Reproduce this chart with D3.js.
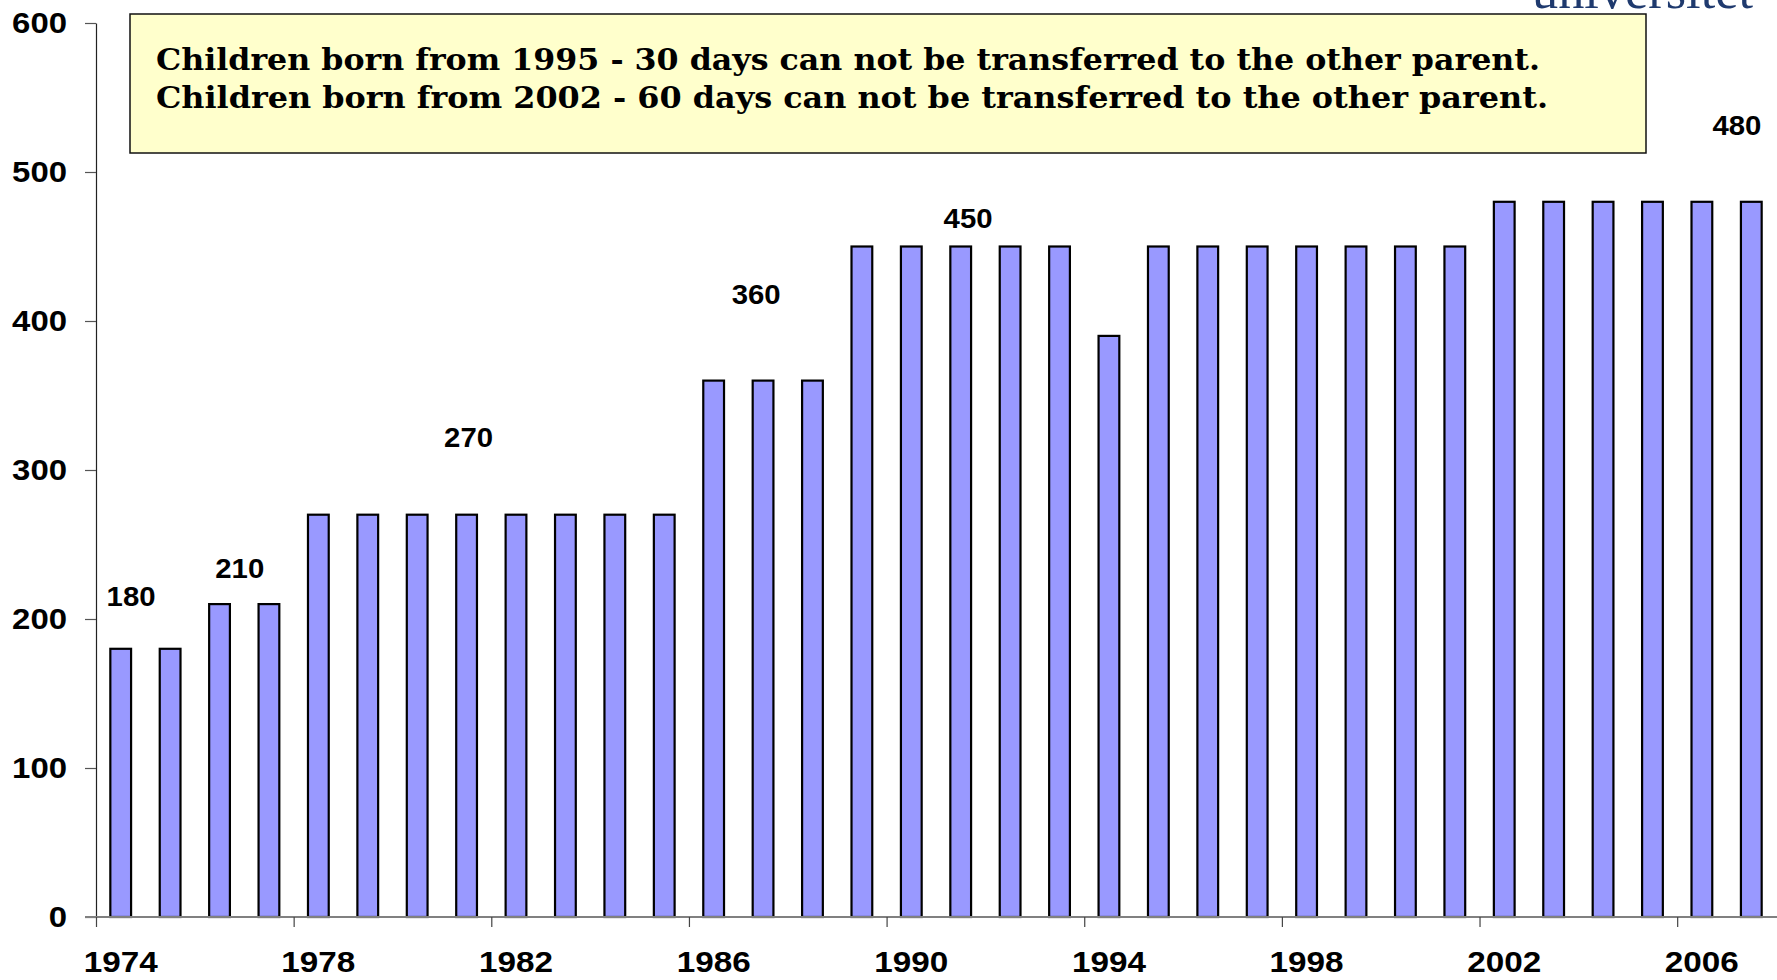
<!DOCTYPE html>
<html>
<head>
<meta charset="utf-8">
<script src="https://cdn.jsdelivr.net/npm/d3@7"></script>
<style>
  html, body { margin: 0; padding: 0; background: #fff; }
  svg { display: block; }
</style>
</head>
<body>
<svg id="chart" width="1777" height="980"></svg>
<script>
// ---- data ----
const years = d3.range(1974, 2008);
const days = [180, 180, 210, 210, 270, 270, 270, 270, 270, 270, 270, 270,
              360, 360, 360, 450, 450, 450, 450, 450, 390,
              450, 450, 450, 450, 450, 450, 450,
              480, 480, 480, 480, 480, 480];
const yTicks = [0, 100, 200, 300, 400, 500, 600];
const xTickYears = [1974, 1978, 1982, 1986, 1990, 1994, 1998, 2002, 2006];
const labelText = ["180", "210", "270", "360", "450", "480"];
const labelYear = [1974.71, 1976.91, 1981.54, 1987.36, 1991.65, 2007.21];
const labelLevel = [208.7, 227.5, 315.4, 411.4, 462.4, 524.8];
const noteLines = [
  "Children born from 1995 - 30 days can not be transferred to the other parent.",
  "Children born from 2002 - 60 days can not be transferred to the other parent."
];

// ---- layout ----
const svg = d3.select("#chart");
const plotL = 96, plotR = 1776, plotT = 23, plotB = 917;

const x = d3.scaleBand().domain(years).range([plotL, plotR])
  .paddingInner(0.58).paddingOuter(0.29);
const xEdge = d3.scaleLinear().domain([1974, 2008]).range([plotL, plotR]);
const y = d3.scaleLinear().domain([0, 600]).range([plotB, plotT]);

// logo text (cropped at top, as in the source slide)
svg.append("text")
  .attr("x", 1532).attr("y", 8)
  .attr("font-family", "Liberation Serif, serif")
  .attr("font-size", 52)
  .attr("fill", "#1f3a6e")
  .attr("textLength", 221).attr("lengthAdjust", "spacingAndGlyphs")
  .text("universitet");

// bars
svg.append("g").selectAll("rect")
  .data(years.map((yr, i) => ({ yr, v: days[i] })))
  .join("rect")
  .attr("x", d => x(d.yr))
  .attr("y", d => y(d.v))
  .attr("width", x.bandwidth())
  .attr("height", d => y(0) - y(d.v))
  .attr("fill", "#9999ff")
  .attr("stroke", "#000")
  .attr("stroke-width", 2.2);

// y axis
const yAxis = svg.append("g")
  .attr("transform", `translate(${plotL},0)`)
  .call(d3.axisLeft(y).tickValues(yTicks).tickSize(11).tickPadding(18).tickSizeOuter(0));
yAxis.select(".domain").attr("stroke", "#222").attr("stroke-width", 1.2);
yAxis.selectAll(".tick line").attr("stroke", "#555").attr("stroke-width", 1.2);
yAxis.selectAll(".tick text")
  .attr("font-family", "Liberation Sans, Arial, sans-serif")
  .attr("font-weight", "bold")
  .attr("font-size", 29)
  .attr("fill", "#000")
  .attr("textLength", d => String(d).length * 18.3)
  .attr("lengthAdjust", "spacingAndGlyphs");

// x axis line
svg.append("line")
  .attr("x1", 85).attr("x2", 1777)
  .attr("y1", plotB).attr("y2", plotB)
  .attr("stroke", "#808080").attr("stroke-width", 2);

// x ticks at category boundaries
const xAxis = svg.append("g")
  .attr("transform", `translate(0,${plotB})`)
  .call(d3.axisBottom(xEdge).tickValues(xTickYears).tickSize(10).tickFormat(""));
xAxis.select(".domain").remove();
xAxis.selectAll(".tick line").attr("stroke", "#444").attr("stroke-width", 1.2);

// x labels centred on categories
svg.append("g").selectAll("text")
  .data(xTickYears)
  .join("text")
  .attr("x", d => x(d) + x.bandwidth() / 2)
  .attr("y", 972)
  .attr("text-anchor", "middle")
  .attr("font-family", "Liberation Sans, Arial, sans-serif")
  .attr("font-weight", "bold")
  .attr("font-size", 30)
  .attr("fill", "#000")
  .attr("textLength", 74)
  .attr("lengthAdjust", "spacingAndGlyphs")
  .text(d => d);

// value labels
svg.append("g").selectAll("text")
  .data(labelText.map((t, i) => ({ t, yr: labelYear[i], lv: labelLevel[i] })))
  .join("text")
  .attr("x", d => xEdge(d.yr))
  .attr("y", d => y(d.lv))
  .attr("text-anchor", "middle")
  .attr("font-family", "Liberation Sans, Arial, sans-serif")
  .attr("font-weight", "bold")
  .attr("font-size", 27)
  .attr("fill", "#000")
  .attr("textLength", 49)
  .attr("lengthAdjust", "spacingAndGlyphs")
  .text(d => d.t);

// annotation box
svg.append("rect")
  .attr("x", 130).attr("y", 14)
  .attr("width", 1516).attr("height", 139)
  .attr("fill", "#ffffcc")
  .attr("stroke", "#111")
  .attr("stroke-width", 1.5);

const noteLens = [1384, 1392];
svg.append("g").selectAll("text")
  .data(noteLines)
  .join("text")
  .attr("x", 156)
  .attr("y", (d, i) => 70 + i * 38)
  .attr("font-family", "DejaVu Serif, serif")
  .attr("font-weight", "bold")
  .attr("font-size", 29)
  .attr("fill", "#000")
  .attr("textLength", (d, i) => noteLens[i])
  .attr("lengthAdjust", "spacingAndGlyphs")
  .text(d => d);
</script>
</body>
</html>
